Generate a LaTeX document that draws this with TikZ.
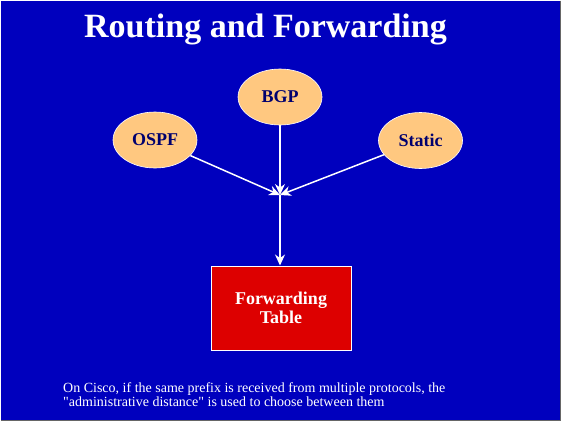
\documentclass[tikz,border=0pt]{standalone}
\usepackage{fontspec}
\setmainfont{Liberation Serif}
\newfontfamily\notefont{Liberation Serif}[Ligatures=TeXOff]
\usetikzlibrary{shapes.geometric,arrows.meta}
\definecolor{slideblue}{RGB}{0,0,190}
\definecolor{protofill}{RGB}{255,200,128}
\definecolor{prototext}{RGB}{0,0,110}
\definecolor{tablered}{RGB}{221,0,0}
\begin{document}
\begin{tikzpicture}[x = 1pt, y = -1pt,
                    proto/.style = {ellipse, draw = white, line width = 0.6pt, fill = protofill,
                                    minimum width = 84pt, minimum height = 56pt, inner sep = 0pt,
                                    text = prototext, font = \fontsize{18}{20}\selectfont\bfseries},
                    feed/.style = {draw = white, line width = 1.5pt, -{Stealth[length = 11pt, width = 10pt]}}]
                    \fill[slideblue] (0,0) rectangle (561,421);
                    \useasboundingbox (0,0) rectangle (561,421);
                    \draw[white, line width = 1pt] (0.5,420.5) -- (0.5,0.5) -- (560.5,0.5);
                    \draw[black!60, line width = 1pt] (560.5,0.5) -- (560.5,420.5) -- (0.5,420.5);
                    \node[anchor = base, text = white, font = \fontsize{34}{38}\selectfont\bfseries] (title) at (265.5,37) {Routing and Forwarding};
                    \node[proto] (bgp) at (280,97) {BGP};
                    \node[proto] (ospf) at (155,140) {OSPF};
                    \node[proto] (static) at (420.5,140.5) {Static};
                    \coordinate (meet) at (280,195);
                    \node[draw = white, line width = 1pt, fill = tablered, minimum width = 140pt, minimum height = 84pt,
                          align = center, text = white, font = \fontsize{18}{19}\selectfont\bfseries] (table) at (281,308) {Forwarding\\Table};
                    \draw[feed] (ospf) -- (meet);
                    \draw[feed] (bgp) -- (meet);
                    \draw[feed] (static) -- (meet);
                    \draw[feed] (meet) -- (meet |- table.north);
                    \node[anchor = north west, inner sep = 0pt, align = left, text = white, font = \notefont\fontsize{14}{14}\selectfont] (note) at (63,382)
                         {On Cisco, if the same prefix is received from multiple protocols, the\\"administrative distance" is used to choose between them};
            \end{tikzpicture}
\end{document}
